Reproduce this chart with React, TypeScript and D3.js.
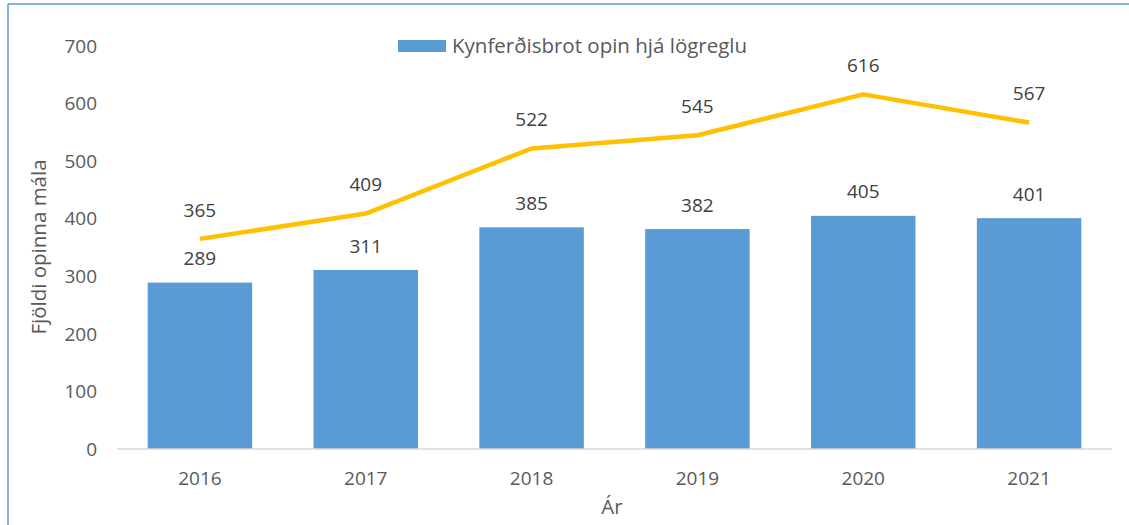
import React from "react";
import * as d3 from "d3";

const years = ["2016", "2017", "2018", "2019", "2020", "2021"];
const barValues = [289, 311, 385, 382, 405, 401];
const lineValues = [365, 409, 522, 545, 616, 567];
const yTicks = [0, 100, 200, 300, 400, 500, 600, 700];
const legendLabel = "Kynferðisbrot opin hjá lögreglu";
const yTitle = "Fjöldi opinna mála";
const xTitle = "Ár";

const W = 1129;
const H = 525;
const FONT = "'Open Sans', sans-serif";
const NUM = 19;
const TXT = 20.5;

export default function App() {
  const x = d3.scaleBand<string>().domain(years).range([117, 1112]).paddingInner(0.37).paddingOuter(0.185);
  const xc = d3.scaleBand<string>().domain(years).range([117, 1112]);
  const y = d3.scaleLinear().domain([0, 700]).range([449, 46]);
  const line = d3
    .line<number>()
    .x((_, i) => (xc(years[i]) as number) + xc.bandwidth() / 2)
    .y((d) => y(d));

  return (
    <svg width={W} height={H} style={{ position: "absolute", left: 0, top: 0 }}>
      <rect x={0} y={0} width={W} height={H} fill="#fff" />
      <line x1={8} y1={4} x2={W} y2={4} stroke="#5b9bd5" strokeWidth={1.5} />
      <line x1={8} y1={4} x2={8} y2={H} stroke="#5b9bd5" strokeWidth={1.5} />

      {yTicks.map((t) => (
        <text key={t} x={97} y={y(t)} dy="0.35em" textAnchor="end" fontFamily={FONT} fontSize={NUM} fill="#595959">
          {t}
        </text>
      ))}

      {years.map((yr, i) => (
        <rect key={yr} x={x(yr)} y={y(barValues[i])} width={x.bandwidth()} height={y(0) - y(barValues[i])} fill="#5b9bd5" />
      ))}

      <line x1={117} y1={y(0)} x2={1112} y2={y(0)} stroke="#d9d9d9" strokeWidth={1.5} />

      {years.map((yr) => (
        <text key={yr} x={(xc(yr) as number) + xc.bandwidth() / 2} y={478} dy="0.35em" textAnchor="middle" fontFamily={FONT} fontSize={NUM} fill="#595959">
          {yr}
        </text>
      ))}

      <path d={line(lineValues) as string} fill="none" stroke="#ffc000" strokeWidth={4.5} strokeLinejoin="round" />

      {years.map((yr, i) => (
        <text key={"b" + yr} x={(xc(yr) as number) + xc.bandwidth() / 2} y={y(barValues[i]) - 24} dy="0.35em" textAnchor="middle" fontFamily={FONT} fontSize={NUM} fill="#404040">
          {barValues[i]}
        </text>
      ))}
      {years.map((yr, i) => (
        <text key={"l" + yr} x={(xc(yr) as number) + xc.bandwidth() / 2} y={y(lineValues[i]) - 29} dy="0.35em" textAnchor="middle" fontFamily={FONT} fontSize={NUM} fill="#404040">
          {lineValues[i]}
        </text>
      ))}

      <rect x={398} y={40} width={48} height={12} fill="#5b9bd5" />
      <text x={452} y={46} dy="0.35em" fontFamily={FONT} fontSize={TXT} fill="#595959">
        {legendLabel}
      </text>

      <text transform={`translate(39,${247}) rotate(-90)`} dy="0.35em" textAnchor="middle" fontFamily={FONT} fontSize={TXT} fill="#595959">
        {yTitle}
      </text>
      <text x={612} y={507} dy="0.35em" textAnchor="middle" fontFamily={FONT} fontSize={TXT} fill="#595959">
        {xTitle}
      </text>
    </svg>
  );
}
